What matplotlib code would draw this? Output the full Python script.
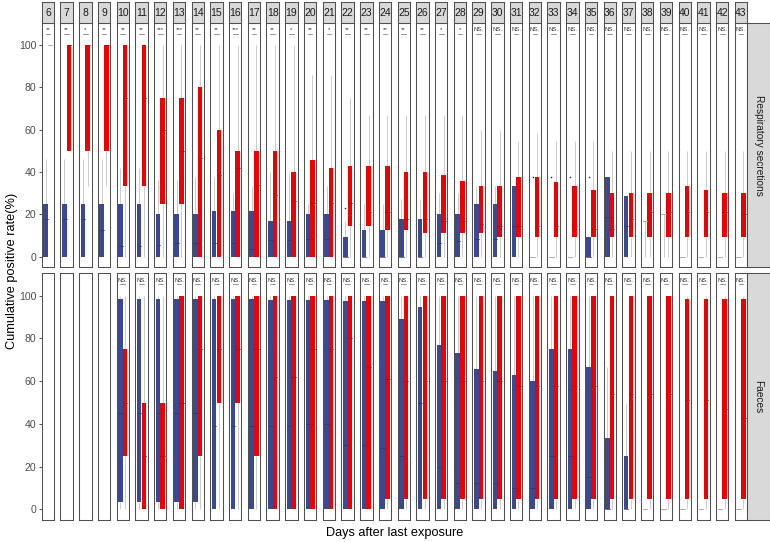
import numpy as np
import matplotlib
matplotlib.use("Agg")
import matplotlib.pyplot as plt
from matplotlib.patches import Rectangle

# --- Constants and Parameters ---
W, H = 770, 542            # figure size in pixels
BLUE = "#3B4992"
RED = "#EE0000"
BLUE_MED = "#2b346e"
RED_MED = "#b00000"
WHISKER = "#C4C4C4"
BORDER = "#505050"
STRIP = "#D9D9D9"

plt.rcParams['font.family'] = ['Liberation Sans', 'DejaVu Sans']

# --- Data ---
days = list(range(6, 44))

# Respiratory secretions, blue group
resp_blue_q1 = [0] * 32 + [16.7, 20] + [0] * 4
resp_blue_med = [17.6, 17.6, 17.6, 12.5, 5, 5, 5.5, 6.3, 6.3, 6.3, 6.3, 3.6, 7.7, 7.7,
                 8.3, 8.3, 0, 0, 0, 0, 0, 6.3, 7.4, 8.3, 8.3, 14.3, 0, 0, 0, 0,
                 18.8, 14.3, 16.7, 20, 0, 0, 0, 0]
resp_blue_q3 = [25, 25, 25, 25, 25, 25, 20, 20, 20, 21.4, 21.4, 21.4, 16.7, 16.7,
                20, 20, 9.1, 12.5, 12.5, 17.6, 17.6, 20, 20, 25, 25, 33.3, 0, 0, 0,
                9.1, 37.5, 28.6, 16.7, 20, 0, 0, 0, 0]
resp_blue_hi = [46.2, 46.2, 46.2, 46.2, 41.7, 41.7, 36.4, 36.4, 37.5, 37.5, 30, 33.3,
                40, 40, 25, 33.3, 16.7, 25, 25, 27.3, 27.3, 30, 30, 33.3, 33.3, 33.3,
                0, 0, 0, 9.1, 37.5, 28.6, 16.7, 20, 0, 0, 0, 0]
resp_blue_out_days = [22, 32, 33, 34, 35]
resp_blue_out_vals = [23.1, 37.5, 37.5, 37.5, 37.5]

# Respiratory secretions, red group
resp_red_lo = [100, 50, 33.3, 33.3] + [0] * 34
resp_red_q1 = [100, 50, 50, 50, 33.3, 33.3, 25, 25] + [0] * 8 + [14.3, 14.3, 12.5, 12.5,
               11.1, 11.1, 11.1, 11.1] + [9.1] * 14
resp_red_med = [100, 100, 100, 100, 75, 75, 60, 50, 46.7, 38.5, 41.7, 34, 29, 26.3,
                25.4, 25.4, 25.4, 21, 21, 18, 18, 16.7, 16.7, 15.6, 14.3, 14.3, 14.3,
                14.3, 14.3, 13.3, 13.3, 18, 21, 21, 21, 21, 21, 20]
resp_red_q3 = [100, 100, 100, 100, 100, 100, 75, 75, 80, 60, 50, 50, 50, 40, 45.5, 41.7,
               42.9, 42.9, 42.9, 40, 40, 38.5, 35.7, 33.3, 33.3, 37.5, 37.5, 35.3, 33.3,
               31.6, 30, 30, 30, 30, 33.3, 31.6, 30, 30]
resp_red_hi = [100] * 14 + [85.7, 85.7, 75] + [66.7] * 6 + [60, 60, 54.5, 58.3,
               54.5, 54.5, 54.5] + [50] * 8

# Faeces, blue group (no samples on days 6-9)
faec_blue_q1 = [None] * 4 + [3.5] * 5 + [0] * 29
faec_blue_med = [None] * 4 + [45] * 5 + [39] * 5 + [40, 40, 30, 30, 28.6, 25, 50, 20,
                 12.5, 12.5, 12.5, 10, 10, 25, 25, 15, 0, 0] + [0] * 6
faec_blue_q3 = [None] * 4 + [98.4] * 8 + [98.1] * 4 + [97.6, 97.3, 97.3, 89, 94.5, 76.8,
                73, 65.8, 64.6, 62.7, 60.3, 75.2, 75.2, 66.8, 33.3, 25] + [0] * 6
faec_blue_hi = [None] * 4 + [100] * 26 + [66.7, 50] + [0] * 6

# Faeces, red group
faec_red_q1 = [None] * 4 + [25, 0, 0, 0, 25, 50, 50, 25] + [0] * 6 + [4.8] * 20
faec_red_med = [None] * 4 + [50, 25, 25, 50, 75, 75, 75, 75, 62, 62, 75, 75, 80, 66.7,
                60.8] + [60] * 6 + [57.7] * 5 + [54.2] * 4 + [51, 51, 47, 42.8]
faec_red_q3 = [None] * 4 + [75, 50, 50] + [100] * 27 + [98.4] * 4
faec_red_hi = [None] * 4 + [100] * 34

resp_sig = ["**", "**", "*", "**", "**", "**", "***", "***", "**", "**", "***", "**",
            "**", "*", "**", "*", "**", "**", "**", "**", "**", "*", "*"] + ["NS."] * 15
faec_sig = [""] * 4 + ["NS."] * 34

rows = ["Respiratory secretions", "Faeces"]


def px_axes(fig, x0, y0, x1, y1, **kw):
    """Add axes given pixel box (top-left origin)."""
    return fig.add_axes([x0 / W, 1 - y1 / H, (x1 - x0) / W, (y1 - y0) / H], **kw)


def draw_box(ax, xc, lo, q1, med, q3, hi, fill, medc, width=0.44):
    """Draw one ggplot-like box with whiskers."""
    if q1 is None:
        return
    ax.plot([xc, xc], [q3, hi], color=WHISKER, lw=0.6, zorder=1, solid_capstyle='butt')
    ax.plot([xc, xc], [lo, q1], color=WHISKER, lw=0.6, zorder=1, solid_capstyle='butt')
    if q3 - q1 <= 0:
        ax.plot([xc - width / 2, xc + width / 2], [q1, q1], color="#a0a0a0", lw=0.6, zorder=3)
        return
    ax.add_patch(Rectangle((xc - width / 2, q1), width, q3 - q1, facecolor=fill,
                           edgecolor='none', zorder=2))
    ax.plot([xc - width / 2, xc + width / 2], [med, med], color=medc, lw=0.5, zorder=3)


def main():
    fig = plt.figure(figsize=(W / 100, H / 100), dpi=100)

    col_left, col_pitch, col_w = 41.7, 18.73, 12.4
    row_box = [(22.7, 267.3), (273.3, 520.0)]
    ylim = (-5.0, 110.5)
    xb, xr = 0.775, 1.225

    data = [
        dict(bq1=resp_blue_q1, bmed=resp_blue_med, bq3=resp_blue_q3, bhi=resp_blue_hi,
             blo=[0] * 38, rq1=resp_red_q1, rmed=resp_red_med, rq3=resp_red_q3,
             rhi=resp_red_hi, rlo=resp_red_lo, sig=resp_sig),
        dict(bq1=faec_blue_q1, bmed=faec_blue_med, bq3=faec_blue_q3, bhi=faec_blue_hi,
             blo=[0] * 38, rq1=faec_red_q1, rmed=faec_red_med, rq3=faec_red_q3,
             rhi=faec_red_hi, rlo=[0] * 38, sig=faec_sig),
    ]

    for r, (y0, y1) in enumerate(row_box):
        d = data[r]
        for i, day in enumerate(days):
            x0 = col_left + i * col_pitch
            ax = px_axes(fig, x0, y0, x0 + col_w, y1)
            ax.set_xlim(0.4, 1.6)
            ax.set_ylim(*ylim)
            for s in ax.spines.values():
                s.set_color(BORDER)
                s.set_linewidth(0.75)
            ax.set_xticks([])
            if i == 0:
                ax.set_yticks([0, 20, 40, 60, 80, 100])
                ax.tick_params(axis='y', length=2.5, width=0.6, color="#333333",
                               labelsize=7.6, labelcolor="#4D4D4D", pad=1.5)
            else:
                ax.set_yticks([])

            draw_box(ax, xb, d['blo'][i], d['bq1'][i], d['bmed'][i], d['bq3'][i],
                     d['bhi'][i], BLUE, BLUE_MED)
            draw_box(ax, xr, d['rlo'][i], d['rq1'][i], d['rmed'][i], d['rq3'][i],
                     d['rhi'][i], RED, RED_MED)

            if r == 0 and day in resp_blue_out_days:
                k = resp_blue_out_days.index(day)
                ax.scatter([xb], [resp_blue_out_vals[k]], s=1.2, color="#222222",
                           zorder=4, linewidths=0)

            lab = d['sig'][i]
            if lab:
                ax.plot([xb, xr], [105.3, 105.3], color="#6b6b6b", lw=0.5)
                ax.text(1.0, 105.9, lab, ha='center', va='bottom', fontsize=4.3,
                        color="#333333", clip_on=False)

            if r == 0:
                sax = px_axes(fig, x0, 1.7, x0 + col_w, y0)
                sax.set_facecolor(STRIP)
                sax.set_xticks([])
                sax.set_yticks([])
                for s in sax.spines.values():
                    s.set_color(BORDER)
                    s.set_linewidth(0.75)
                sax.text(0.5, 0.45, str(day), ha='center', va='center', fontsize=7.5,
                         color="#1A1A1A", transform=sax.transAxes)

        # right-hand facet strip
        rax = px_axes(fig, x0 + col_w, y0, W, y1)
        rax.set_facecolor(STRIP)
        rax.set_xticks([])
        rax.set_yticks([])
        for s in rax.spines.values():
            s.set_color(BORDER)
            s.set_linewidth(0.75)
        rax.text(0.5, 0.5, rows[r], rotation=-90, ha='center', va='center',
                 fontsize=7.3, color="#1A1A1A", transform=rax.transAxes)

    fig.text(12 / W, 1 - 271 / H, "Cumulative positive rate(%)", rotation=90,
             ha='center', va='center', fontsize=9.2, color="black")
    fig.text(394.5 / W, 1 - 533 / H, "Days after last exposure", ha='center',
             va='center', fontsize=9.2, color="black")

    fig.savefig("out.png", dpi=100)
    plt.close(fig)


if __name__ == "__main__":
    main()
